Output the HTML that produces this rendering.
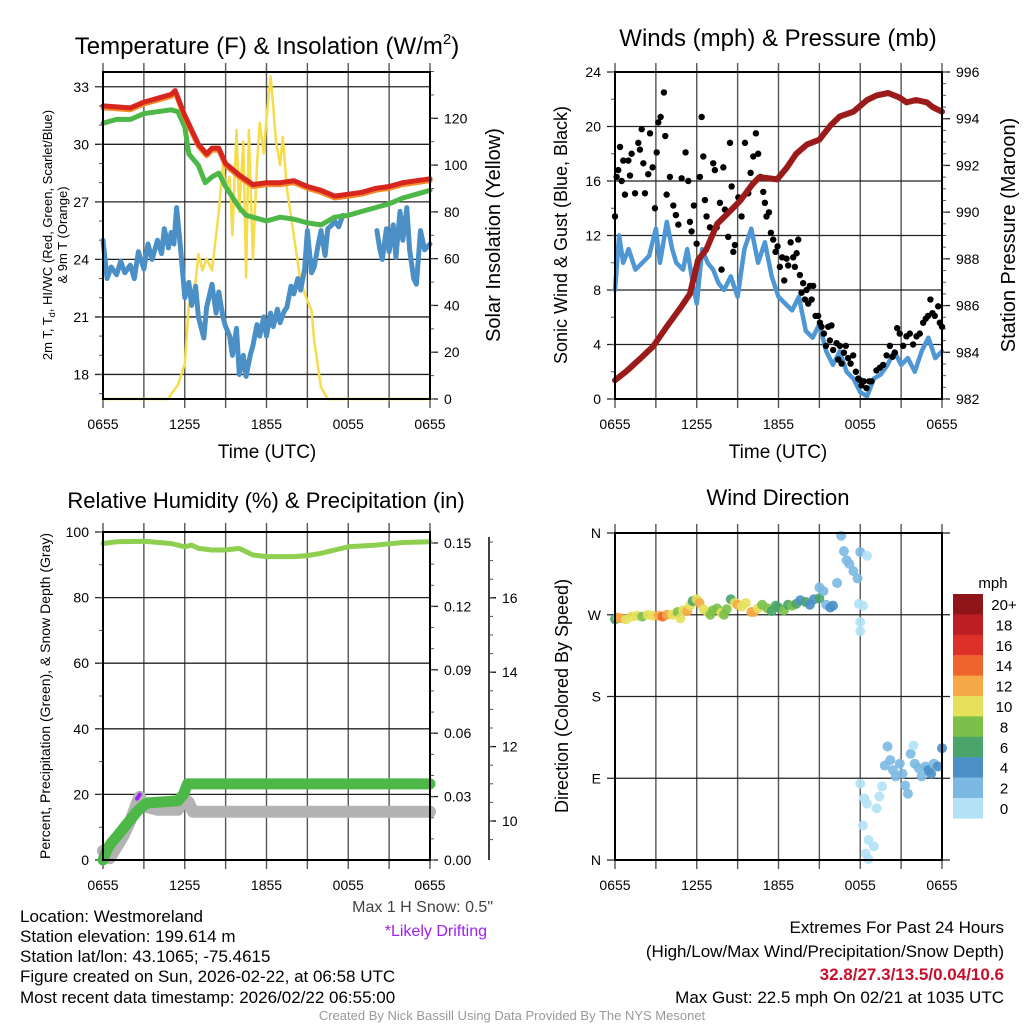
<!DOCTYPE html>
<html><head><meta charset="utf-8"><style>
html,body{margin:0;padding:0;background:#fff;}
svg{display:block;font-family:"Liberation Sans",sans-serif;}
</style></head><body>
<svg id="chart" width="1024" height="1024" viewBox="0 0 1024 1024">
<rect width="1024" height="1024" fill="#fff"/>
<text x="267" y="54" font-size="24" text-anchor="middle">Temperature (F) &amp; Insolation (W/m<tspan font-size="15" dy="-10">2</tspan><tspan dy="10">)</tspan></text>
<text x="778" y="46" font-size="24" text-anchor="middle">Winds (mph) &amp; Pressure (mb)</text>
<text x="266" y="508" font-size="22" text-anchor="middle">Relative Humidity (%) &amp; Precipitation (in)</text>
<text x="778" y="505" font-size="22" text-anchor="middle">Wind Direction</text>
<text x="267" y="458" font-size="19" text-anchor="middle">Time (UTC)</text>
<text x="778" y="458" font-size="19" text-anchor="middle">Time (UTC)</text>
<text transform="translate(52,235) rotate(-90)" font-size="13" text-anchor="middle">2m T, T<tspan font-size="9" dy="3">d</tspan><tspan dy="-3">, HI/WC (Red, Green, Scarlet/Blue)</tspan></text>
<text transform="translate(67,235) rotate(-90)" font-size="13" text-anchor="middle">&amp; 9m T (Orange)</text>
<text transform="translate(500,235) rotate(-90)" font-size="20" text-anchor="middle">Solar Insolation (Yellow)</text>
<text transform="translate(567,235) rotate(-90)" font-size="18" text-anchor="middle">Sonic Wind &amp; Gust (Blue, Black)</text>
<text transform="translate(1015,235) rotate(-90)" font-size="20" text-anchor="middle">Station Pressure (Maroon)</text>
<text transform="translate(50,696) rotate(-90)" font-size="14" text-anchor="middle">Percent, Precipitation (Green), &amp; Snow Depth (Gray)</text>
<text transform="translate(568,696) rotate(-90)" font-size="18" text-anchor="middle">Direction (Colored By Speed)</text>
<text x="993" y="588" font-size="15" text-anchor="middle">mph</text>
<text x="493" y="912" font-size="16" text-anchor="end" fill="#444">Max 1 H Snow: 0.5"</text>
<text x="487" y="936" font-size="16" text-anchor="end" fill="#a020f0">*Likely Drifting</text>
<g font-size="17">
<text x="20" y="922">Location: Westmoreland</text>
<text x="20" y="942">Station elevation: 199.614 m</text>
<text x="20" y="962">Station lat/lon: 43.1065; -75.4615</text>
<text x="20" y="982">Figure created on Sun, 2026-02-22, at 06:58 UTC</text>
<text x="20" y="1003">Most recent data timestamp: 2026/02/22 06:55:00</text>
</g>
<g font-size="17" text-anchor="end">
<text x="1004" y="933">Extremes For Past 24 Hours</text>
<text x="1004" y="957">(High/Low/Max Wind/Precipitation/Snow Depth)</text>
<text x="1004" y="980" fill="#c8102e" font-weight="bold">32.8/27.3/13.5/0.04/10.6</text>
<text x="1004" y="1003">Max Gust: 22.5 mph On 02/21 at 1035 UTC</text>
</g>
<text x="512" y="1020" font-size="13" text-anchor="middle" fill="#999">Created By Nick Bassill Using Data Provided By The NYS Mesonet</text>
</svg>
<script>
// ---- data (hours since 0655 UTC) ----
const tempT = [0,1,2,3,4,5,5.3,6,7,7.6,8,8.5,9,10,11,12,13,14,15,16,17,18,19,20,21,22,23,24];
const tempV = [32.0,31.95,31.9,32.2,32.4,32.6,32.8,31.5,30.0,29.5,29.8,29.8,29.0,28.4,27.9,28.0,28.0,28.1,27.8,27.6,27.3,27.4,27.5,27.7,27.8,28.0,28.1,28.2];
const t9mV = [31.9,31.85,31.8,32.1,32.3,32.5,32.7,31.4,29.9,29.4,29.7,29.7,28.9,28.3,27.8,27.9,27.9,28.0,27.7,27.5,27.2,27.3,27.4,27.6,27.7,27.9,28.0,28.1];
const dewT = [0,1,2,3,4,5,5.5,6,6.3,7,7.5,8,8.5,9,10,10.5,11,12,13,14,15,16,17,18,19,20,21,22,23,24];
const dewV = [31.1,31.3,31.3,31.6,31.7,31.8,31.7,30.9,29.5,28.9,28.0,28.3,28.5,27.8,26.7,26.3,26.2,26.0,26.2,26.1,25.9,25.8,26.2,26.3,26.5,26.7,26.9,27.2,27.4,27.6];
const wcT = [0,0.3,0.6,1,1.3,1.6,2,2.3,2.6,3,3.3,3.6,4,4.3,4.5,4.8,5,5.2,5.4,5.7,6,6.3,6.5,6.8,7,7.4,7.6,8,8.3,8.5,8.8,9,9.3,9.5,9.8,10,10.3,10.5,10.8,11,11.3,11.5,11.8,12,12.3,12.5,12.8,13,13.3,13.5,13.8,14,14.3,14.5,14.8,15,15.3,15.5,15.8,16,16.3,16.5,16.8,17,17.3,17.6,18.5,20.1,20.3,20.5,20.8,21,21.3,21.5,21.8,22,22.3,22.5,22.8,23,23.3,23.6,24];
const wcV = [25,23.0,23.6,23.2,23.9,23.3,23.7,23.0,24.4,23.5,24.8,24.0,25.0,24.3,25.6,24.6,25.4,24.8,26.7,24.5,22.0,22.8,21.6,22.6,21.0,19.9,21.5,22.7,21.2,22.3,21.0,20.5,20.0,19.0,20.4,18.0,19.0,17.9,19.0,19.5,20.6,20.0,21.0,20.0,21.2,20.5,21.4,20.7,21.3,21.5,22.6,22.2,23.0,22.4,23.5,25.5,23.3,23.6,24.8,25.5,24.2,25.6,25.8,26.0,25.7,26.3,null,25.5,24.6,24.0,25.6,24.4,25.8,24.1,26.5,25.0,26.7,24.5,23.0,22.7,25.5,24.5,24.8];
const solT = [0,4.8,5,5.5,6,6.3,6.8,7,7.3,7.6,8,8.5,8.8,9,9.3,9.5,9.8,10,10.3,10.5,10.7,11,11.3,11.5,11.8,12,12.3,12.5,12.7,13,13.2,13.5,14,14.5,15,15.3,15.5,16,16.5,24];
const solV = [0,0,2,6,15,40,50,62,55,60,55,80,100,90,95,70,115,80,110,52,115,60,100,118,105,120,138,125,110,100,112,90,70,50,42,38,25,5,0,0];
const sustT = [0,0.3,0.6,1,1.5,2,2.5,3,3.3,3.8,4.2,4.5,5,5.3,5.8,6,6.4,6.8,7.2,7.6,8,8.5,9,9.5,10,10.5,11,11.5,12,12.5,13,13.5,14,14.5,15,15.5,16,16.5,17,17.5,18,18.5,19,19.5,20,20.5,21,21.5,22,22.5,23,23.5,24];
const sustV = [8,12,10,11,9.5,10,10.5,12.5,10,13,11,10,9.5,11,8,7,11,10,9.5,8.5,8,9,7.5,11,12.5,10,11.5,9,7.5,7,6.5,7.5,5,4.5,5.5,3.5,2.5,3.5,2.0,1.5,0.5,0.2,1.5,1.8,2.5,3.5,2.5,3,2.0,3.5,4.5,3,3.5];
const gustT = [0,.12,.24,.37,.49,.61,.73,.98,1.1,1.22,1.47,1.71,1.83,1.96,2.08,2.2,2.44,2.57,2.76,2.93,3.06,3.18,3.35,3.59,3.69,3.79,4.03,4.28,4.47,4.65,4.89,5.18,5.38,5.5,5.62,5.79,5.99,6.23,6.36,6.48,6.6,6.72,6.97,7.21,7.33,7.46,7.7,7.82,7.95,8.07,8.31,8.44,8.56,8.68,8.8,9.05,9.29,9.54,9.78,9.95,10.15,10.34,10.51,10.68,10.88,11.0,11.12,11.3,11.44,11.61,11.78,11.93,12.1,12.27,12.42,12.59,12.71,12.89,13.08,13.2,13.33,13.45,13.57,13.69,13.81,13.94,14.06,14.18,14.3,14.43,14.55,14.72,14.91,15.04,15.16,15.33,15.48,15.65,15.77,15.89,16.01,16.26,16.38,16.5,16.63,16.8,16.94,17.11,17.29,17.48,17.68,17.85,17.97,18.09,18.26,18.46,18.66,18.83,19.19,19.44,19.68,19.93,20.17,20.37,20.54,20.71,20.9,21.15,21.39,21.64,21.88,22.13,22.37,22.62,22.81,22.98,23.15,23.3,23.47,23.72,23.84,24];
const gustV = [13.4,16.3,16.8,18.5,16,17.5,15,17.5,16.4,18,15.1,18.8,18.3,19.8,17.3,15.1,16.5,19.5,17,14,18.1,20.3,20.7,22.5,19.3,15,16.3,14.2,13.5,12.8,16.2,18.1,16,13,12.3,14.2,11.4,16.3,20.7,17.8,14.6,13.4,12.6,17.3,16.8,12.6,14.4,9.5,17,13.9,11.9,18.8,15.6,10.8,11.3,14.8,13.4,18.8,15.1,16.6,17.8,19.5,18,16.3,15.2,14.4,13.4,13.7,12.2,11.7,10.8,11.2,9.7,10.4,8.7,10.3,9.8,11.5,10.4,9.7,10.7,11.7,9.1,7.8,8.5,7.3,8,7,8.3,7.3,8.3,6.1,6.1,5.6,5.3,4.8,3.9,5.3,4.3,5.4,3.6,4.1,2.9,3.9,2.6,3.4,3.9,3,2.6,3.2,2,1.5,1.4,1,1.3,0.8,1.3,1.3,2.1,2.3,2.5,3.2,3.9,3.1,3.4,5.2,4.8,3.9,4.6,4.8,4,4.6,4.8,5.6,5.9,6.1,7.3,6.3,6.1,6.8,5.6,5.3];
const presT = [0,0.86,1.8,2.8,3.8,4.8,5.5,6.1,6.7,7.5,8.2,9.2,10.1,10.6,11.9,12.6,13.3,14.1,15,15.8,16.5,17.5,18.5,19.2,20.05,20.9,21.4,22.1,22.9,23.3,24];
const presV = [982.8,983.2,983.7,984.25,985.1,985.9,986.5,987.95,988.4,989.5,989.9,990.5,991.2,991.5,991.4,991.9,992.5,992.9,993.1,993.7,994.1,994.3,994.8,995.0,995.1,994.9,994.7,994.8,994.7,994.5,994.3];
const rhT = [0,1,3,5,6,6.5,7,8,9,10,11,12,14,15,16,17,18,20,22,24];
const rhV = [96.5,97,97.2,96.5,95.5,96,95,94.5,94.5,95,93,92.5,92.5,92.8,93.5,94.5,95.5,96,96.8,97];
const pcpT = [0,0.3,0.6,1,1.5,2,2.5,3,3.3,5.5,5.9,6.2,24];
const pcpV = [0,0.005,0.008,0.011,0.015,0.019,0.023,0.026,0.027,0.028,0.031,0.036,0.036];
const snowT = [0,0.5,1,1.5,2,2.5,2.7,3,4,5.5,6,6.3,6.6,24];
const snowV = [9.2,9.0,9.3,9.6,10.0,10.5,10.65,10.4,10.3,10.3,10.6,10.5,10.25,10.25];
const dirT = [0,0.2,0.4,0.8,1.2,1.6,2.0,2.4,2.8,3.2,3.5,3.8,4.2,4.6,4.8,5.0,5.3,5.5,5.7,6.0,6.2,6.5,6.8,7.0,7.2,7.5,7.8,8.0,8.2,8.5,8.8,9.0,9.3,9.6,10.0,10.2,10.5,10.8,11.2,11.5,11.8,12.0,12.4,12.7,13.0,13.3,13.6,14.0,14.3,14.6,15.0,15.0,15.3,15.5,15.8,16.0,16.3,16.6,16.8,17.0,17.2,17.5,17.8,18.0,17.9,18.2,18.5,18.0,18.0,18.0,18.3,18.5,18.2,18.6,19.0,18.4,18.6,19.2,19.4,19.6,19.8,20.0,20.2,20.4,20.6,20.9,21.1,21.3,21.5,21.7,21.9,22.0,22.3,22.5,22.8,23.0,23.2,23.4,23.7,24.0];
const dirV = [265,267,266,265,268,269,268,270,269,269,268,270,270,273,266,275,274,280,285,287,283,276,273,270,275,277,272,270,276,287,283,281,279,283,273,273,277,281,277,274,280,278,275,281,280,282,286,284,281,287,288,300,296,281,278,280,305,357,340,330,326,318,310,339,282,280,335,262,252,84,68,62,38,22,15,7,1,57,70,81,104,125,110,99,92,106,95,82,73,117,126,106,101,92,103,99,95,106,103,123];
const dirS = [7,12,12,10,10,10,9,10,11,12,14,12,10,8,10,10,12,10,6,10,12,10,10,8,9,8,10,8,8,7,10,12,10,10,12,12,10,8,8,7,6,7,8,6,8,6,4,6,4,4,6,3,3,3,4,4,2,2,2,2,2,2,2,2,1,1,1,1,1,0,0,0,0,0,0,0,0,0,0,0,2,2,2,2,2,2,2,2,2,2,1,2,2,2,2,4,4,2,4,4];
const legendLabels = ["20+","18","16","14","12","10","8","6","4","2","0"];
const legendColors = ["#8f1518","#bd1e24","#dc3028","#ef632c","#f5a845","#e6e05a","#7cc04a","#4aa56a","#4a90c7","#7bb9e3","#b3e2f7"];
const timeLabels = ["0655","1255","1855","0055","0655"];

const NS = "http://www.w3.org/2000/svg";
const svg = document.getElementById("chart");
function mk(tag, attrs, parent){const e=document.createElementNS(NS,tag);for(const k in attrs)e.setAttribute(k,attrs[k]);(parent||svg).appendChild(e);return e;}

const P1={x0:103,x1:430,y0:72,y1:399};
const P2={x0:615,x1:942,y0:72,y1:399};
const P3={x0:103,x1:430,y0:532,y1:860};
const P4={x0:615,x1:942,y0:533,y1:860};
function xs(p,h){return p.x0+h/24*(p.x1-p.x0);}
function lin(p,lo,hi){return v=>p.y1-(v-lo)/(hi-lo)*(p.y1-p.y0);}

function frame(p,name,hTicks,yfn,labelsL,minorL,rightTicks,ryfn,minorR,fmtR){
  const g=mk("g",{});
  
  
  for(let i=0;i<=8;i++){
    const x=xs(p,i*3);
    const l=mk("line",{x1:x,x2:x,y1:p.y0-9,y2:p.y1+9,stroke:"#555","stroke-width":1.4},g);
    
    
  }
  for(let i=0;i<timeLabels.length;i++){
    const t=mk("text",{x:xs(p,i*6),y:p.y1+30,"font-size":14,"text-anchor":"middle"},g);
    t.textContent=timeLabels[i];
    
    
  }
  for(let i=0;i<hTicks.length;i++){
    const y=yfn(hTicks[i]);
    const l=mk("line",{x1:p.x0-8,x2:p.x1+(p.ext||0),y1:y,y2:y,stroke:"#222","stroke-width":1.3},g);
    
    
    const t=mk("text",{x:p.x0-14,y:y+5,"font-size":14,"text-anchor":"end"},g);
    t.textContent=labelsL[i];
    
    
  }
  for(const v of minorL){
    const y=yfn(v);
    const l=mk("line",{x1:p.x0-4,x2:p.x0,y1:y,y2:y,stroke:"#555","stroke-width":1},g);
    
    
  }
  if(rightTicks){
    for(const v of rightTicks){
      const y=ryfn(v);
      const l=mk("line",{x1:p.x1,x2:p.x1+8,y1:y,y2:y,stroke:"#222","stroke-width":1.3},g);
      
      
      const t=mk("text",{x:p.x1+14,y:y+5,"font-size":14},g);
      t.textContent=fmtR(v);
      
      
    }
    for(const v of minorR){
      const y=ryfn(v);
      const l=mk("line",{x1:p.x1,x2:p.x1+4,y1:y,y2:y,stroke:"#555","stroke-width":1},g);
      
      
    }
  }
  return g;
}
function border(p,name){
  const r=mk("rect",{x:p.x0,y:p.y0,width:p.x1-p.x0,height:p.y1-p.y0,fill:"none",stroke:"#000","stroke-width":2});
  
  
}
function series(p,ts,vs,yfn,color,w,name){
  let d="",pen=false;
  for(let i=0;i<ts.length;i++){
    if(vs[i]===null){pen=false;continue;}
    d+=(pen?"L":"M")+xs(p,ts[i]).toFixed(1)+","+yfn(vs[i]).toFixed(1);pen=true;
  }
  const e=mk("path",{d:d,fill:"none",stroke:color,"stroke-width":w,"stroke-linejoin":"round","stroke-linecap":"round"});
  
  
  return e;
}
function range(a,b,s){const r=[];for(let v=a;v<=b+1e-9;v+=s)r.push(+v.toFixed(4));return r;}

// Panel 1
const yT=lin(P1,16.72,33.77), yS=lin(P1,0,139.8);
frame(P1,"temperature",[18,21,24,27,30,33],yT,["18","21","24","27","30","33"],range(17,33,1),range(0,120,20),yS,range(0,140,10),v=>String(v));
series(P1,solT,solV,yS,"#f7dc4a",2.5,"insolation-line");
series(P1,wcT,wcV,yT,"#4a90c7",5,"wind-chill-line");
series(P1,dewT,dewV,yT,"#4db848",5,"dewpoint-line");
series(P1,tempT,t9mV,yT,"#f58a2a",5,"temp-9m-line");
series(P1,tempT,tempV,yT,"#d7261e",5,"temp-2m-line");
border(P1,"temperature");

// Panel 2
const yW=lin(P2,0,24), yP=lin(P2,982,996);
frame(P2,"winds",[0,4,8,12,16,20,24],yW,["0","4","8","12","16","20","24"],range(0,24,2),range(982,996,2),yP,range(982,996,0.5),v=>String(v));
series(P2,sustT,sustV,yW,"#4f97d4",4.5,"sustained-wind-line");
for(let i=0;i<gustT.length;i++){
  const c=mk("circle",{cx:xs(P2,gustT[i]),cy:yW(gustV[i]),r:3.2,fill:"#000"});
  
  
}
series(P2,presT,presV,yP,"#9b1b1b",6,"pressure-line");
border(P2,"winds");

// Panel 3
const yRH=lin(P3,0,100);
const yPc=v=>P3.y1-v/0.15*(P3.y1-543);
const ySn=v=>821-(v-10)*37.2;
frame(P3,"humidity",[0,20,40,60,80,100],yRH,["0","20","40","60","80","100"],range(0,100,10),range(0,0.15,0.03),yPc,range(0,0.15,0.01),v=>v.toFixed(2));
const ax3=mk("line",{x1:489,x2:489,y1:537,y2:860,stroke:"#000","stroke-width":1.5});


for(const v of [10,12,14,16]){
  const l=mk("line",{x1:489,x2:496,y1:ySn(v),y2:ySn(v),stroke:"#000","stroke-width":1.3});
  
  
  const t=mk("text",{x:502,y:ySn(v)+5,"font-size":14});
  t.textContent=String(v);
  
  
}
for(let v=9.5;v<=18;v+=0.5){
  if(ySn(v)<537)continue;
  const l=mk("line",{x1:489,x2:493,y1:ySn(v),y2:ySn(v),stroke:"#555","stroke-width":1});
  
  
}
series(P3,snowT,snowV,ySn,"#b3b3b3",12,"snow-depth-line");
series(P3,[2.5,2.7],[0.029,0.031],yPc,"#a020f0",4,"drifting-marker");
series(P3,pcpT,pcpV,yPc,"#4db848",11,"precipitation-line");
series(P3,rhT,rhV,yRH,"#8fcf50",5,"relative-humidity-line");
border(P3,"humidity");

// Panel 4
P4.ext=8;
const yD=lin(P4,0,360);
frame(P4,"direction",[0,90,180,270,360],yD,["N","E","S","W","N"],[],null);
for(let i=0;i<dirT.length;i++){
  const bin=Math.min(10,Math.floor(dirS[i]/2));
  const c=mk("circle",{cx:xs(P4,dirT[i]),cy:yD(dirV[i]),r:5,fill:legendColors[10-bin],"fill-opacity":0.9});
  
  
}
border(P4,"direction");
for(let i=0;i<legendColors.length;i++){
  const y=594+i*20.4;
  const r=mk("rect",{x:953,y:y,width:30,height:20.6,fill:legendColors[i]});
  
  
  const t=mk("text",{x:1004,y:y+16,"font-size":15,"text-anchor":"middle"});
  t.textContent=legendLabels[i];
  
  
}
</script>
</body></html>
